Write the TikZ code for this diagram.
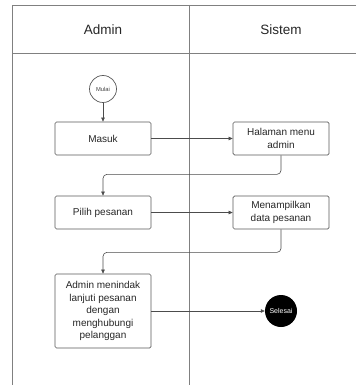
\documentclass[tikz,border=0pt]{standalone}
\usepackage{fontspec}
\setmainfont{Liberation Sans}
\usetikzlibrary{arrows.meta}
\begin{document}
\begin{tikzpicture}[x=1pt,y=-1pt,
 lane/.style={draw=black!50, line width=0.8pt},
 actbox/.style={draw=black!65, line width=0.7pt, rounded corners=1.5pt, minimum width=96pt, minimum height=33pt, align=center, font=\fontsize{10}{12.5}\selectfont, inner sep=2pt, text=black!85},
 flow/.style={draw=black!70, line width=0.6pt, -{Triangle[length=4pt,width=3.5pt]}},
 header/.style={font=\fontsize{13.5}{15}\selectfont, text=black!85},
]
\useasboundingbox (0,0) rectangle (356,387);
\draw[lane] (356,5) -- (12,5) -- (12,385);
\draw[lane] (12,53) -- (356,53);
\draw[lane] (189,5) -- (189,385);
\node[header] (hadmin) at (103,30) {Admin};
\node[header] (hsistem) at (281,30) {Sistem};
\node[circle, draw=black!65, line width=0.7pt, minimum size=27pt, inner sep=0pt, font=\fontsize{5.8}{7}\selectfont, text=black!75] (mulai) at (103,89) {Mulai};
\node[actbox] (masuk) at (103,138.5) {Masuk};
\node[actbox] (halaman) at (281,138.5) {Halaman menu\\admin};
\node[actbox] (pilih) at (103,212.5) {Pilih pesanan};
\node[actbox] (menampilkan) at (281,212.5) {Menampilkan\\data pesanan};
\node[actbox, minimum height=74pt] (tindak) at (103,311) {Admin menindak\\lanjuti pesanan\\dengan\\menghubungi\\pelanggan};
\node[circle, fill=black, minimum size=32pt, inner sep=0pt, text=white, font=\fontsize{7}{8}\selectfont] (selesai) at (281,311) {Selesai};
\draw[flow] (mulai) -- (masuk);
\draw[flow] (masuk) -- (halaman);
\draw[flow, rounded corners=4pt] (halaman.south) -- ++(0,19) -| (pilih.north);
\draw[flow] (pilih) -- (menampilkan);
\draw[flow, rounded corners=4pt] (menampilkan.south) -- ++(0,23) -| (tindak.north);
\draw[flow] (tindak) -- (selesai);
\end{tikzpicture}
\end{document}
